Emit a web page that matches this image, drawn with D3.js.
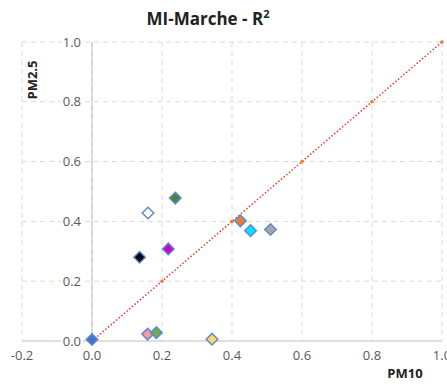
<!DOCTYPE html>
<html>
<head>
<meta charset="utf-8">
<script src="https://cdn.jsdelivr.net/npm/d3@7"></script>
<style>
  body { margin: 0; background: #fff; }
  text { font-family: "Open Sans", "Noto Sans", sans-serif; }
</style>
</head>
<body>
<div id="vis"></div>
<script>
// Data
const pm10 = [0.0, 0.16, 0.238, 0.136, 0.218, 0.424, 0.453, 0.51, 0.159, 0.184, 0.343];
const pm25 = [0.005, 0.428, 0.478, 0.28, 0.308, 0.402, 0.369, 0.373, 0.023, 0.028, 0.006];
const fills = ['#4472C4', '#FFFFFF', '#548235', '#000000', '#CC00CC', '#ED7D31', '#00E5FF', '#A5A5A5', '#FF9999', '#70AD47', '#FFD966'];
const xTicks = [-0.2, 0, 0.2, 0.4, 0.6, 0.8, 1.0];
const yTicks = [0, 0.2, 0.4, 0.6, 0.8, 1.0];
const diag = [0, 0.2, 0.4, 0.6, 0.8, 1.0];

const W = 447, H = 384;
const plot = { left: 22, right: 442, top: 42, bottom: 341 };
const fmt = d => d.toFixed(1);

const svg = d3.select('#vis').append('svg')
    .attr('width', W).attr('height', H);

const x = d3.scaleLinear().domain([-0.2, 1.0]).range([plot.left, plot.right]);
const y = d3.scaleLinear().domain([0, 1.0]).range([plot.bottom, plot.top]);

// gridlines
svg.append('g').selectAll('line')
    .data(xTicks).enter().append('line')
    .attr('x1', d => x(d)).attr('x2', d => x(d))
    .attr('y1', plot.top).attr('y2', plot.bottom)
    .attr('stroke', '#D9D9D9').attr('stroke-dasharray', '5,4');

svg.append('g').selectAll('line')
    .data(yTicks.filter(d => d > 0)).enter().append('line')
    .attr('x1', plot.left).attr('x2', plot.right)
    .attr('y1', d => y(d)).attr('y2', d => y(d))
    .attr('stroke', '#D9D9D9').attr('stroke-dasharray', '5,4');

// axis lines
svg.append('line')
    .attr('x1', x(0)).attr('x2', x(0)).attr('y1', plot.top).attr('y2', plot.bottom)
    .attr('stroke', '#BFBFBF');
svg.append('line')
    .attr('x1', plot.left).attr('x2', plot.right).attr('y1', plot.bottom).attr('y2', plot.bottom)
    .attr('stroke', '#BFBFBF');

// y tick labels (with white behind to cut the grid)
const yl = svg.append('g').selectAll('g')
    .data(yTicks).enter().append('g')
    .attr('transform', d => `translate(${x(0) - 11},${y(d)})`);
yl.append('rect')
    .attr('x', -20).attr('y', -8).attr('width', 22).attr('height', 16)
    .attr('fill', '#fff');
yl.append('text')
    .attr('text-anchor', 'end').attr('dy', '0.35em')
    .attr('font-size', 13).attr('fill', '#595959')
    .text(fmt);

// x tick labels
svg.append('g').selectAll('text')
    .data(xTicks).enter().append('text')
    .attr('x', d => x(d)).attr('y', plot.bottom + 19)
    .attr('text-anchor', 'middle')
    .attr('font-size', 13).attr('fill', '#595959')
    .text(fmt);

// diagonal 1:1 line
const line = d3.line().x(d => x(d)).y(d => y(d));
svg.append('path')
    .attr('d', line(diag))
    .attr('fill', 'none')
    .attr('stroke', '#E8392A').attr('stroke-width', 1.5)
    .attr('stroke-dasharray', '1.5,2');
svg.append('g').selectAll('circle')
    .data(diag).enter().append('circle')
    .attr('cx', d => x(d)).attr('cy', d => y(d)).attr('r', 1.8)
    .attr('fill', '#ED7D31');

// points
const sym = d3.symbol().type(d3.symbolDiamond2).size(85);
svg.append('g').selectAll('path')
    .data(pm10.map((d, i) => ({ x: d, y: pm25[i], c: fills[i] })))
    .enter().append('path')
    .attr('d', sym)
    .attr('transform', d => `translate(${x(d.x)},${y(d.y)})`)
    .attr('fill', d => d.c)
    .attr('stroke', '#5B8BD6').attr('stroke-width', 1.5);

// titles
const title = svg.append('text')
    .attr('x', 208).attr('y', 25)
    .attr('text-anchor', 'middle')
    .attr('font-size', 17).attr('font-weight', 'bold').attr('fill', '#222');
title.append('tspan').text('MI-Marche - R');
title.append('tspan').attr('font-size', 11).attr('dy', -7).text('2');

svg.append('text')
    .attr('x', 405).attr('y', 378)
    .attr('text-anchor', 'middle')
    .attr('font-size', 13).attr('font-weight', 'bold').attr('fill', '#222')
    .text('PM10');

svg.append('text')
    .attr('transform', `translate(37,80) rotate(-90)`)
    .attr('text-anchor', 'middle')
    .attr('font-size', 13).attr('font-weight', 'bold').attr('fill', '#222')
    .text('PM2.5');
</script>
</body>
</html>
